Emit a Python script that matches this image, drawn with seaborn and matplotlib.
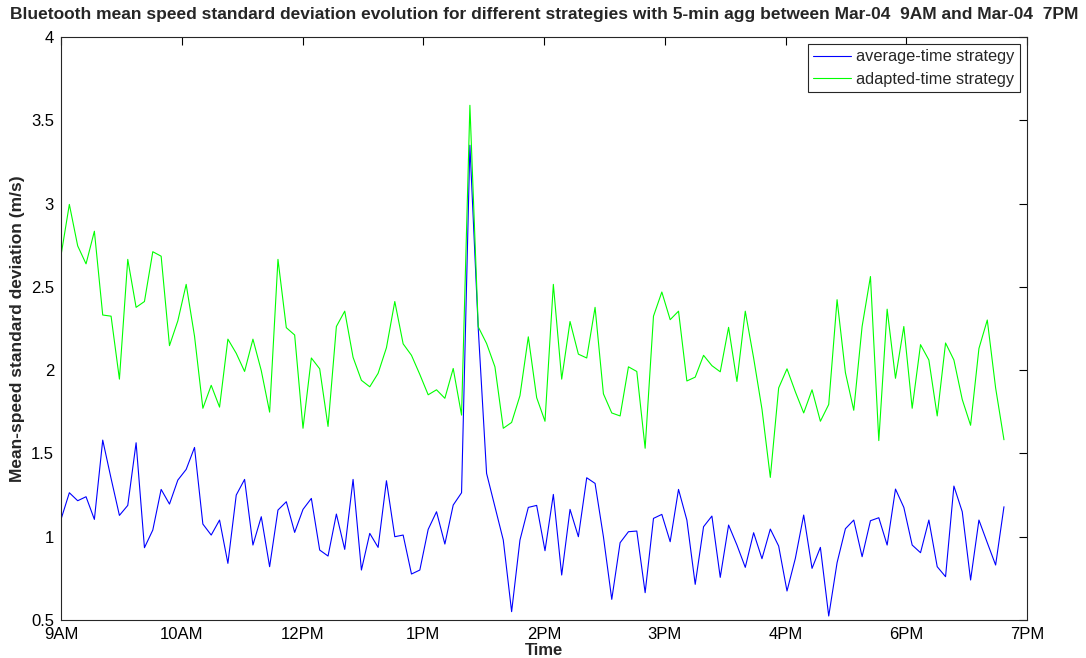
import numpy as np
import pandas as pd
import matplotlib
matplotlib.use("Agg")
import matplotlib.pyplot as plt
import seaborn as sns

# ---- data (5-min aggregation samples) ----
average_time = [
    1.104, 1.264, 1.216, 1.240, 1.104, 1.580, 1.350, 1.128, 1.188, 1.564,
    0.934, 1.040, 1.284, 1.196, 1.340, 1.404, 1.536, 1.076, 1.010, 1.100,
    0.840, 1.250, 1.344, 0.950, 1.120, 0.820, 1.160, 1.210, 1.026, 1.164,
    1.230, 0.920, 0.884, 1.136, 0.924, 1.344, 0.800, 1.020, 0.936, 1.336,
    1.000, 1.010, 0.776, 0.800, 1.044, 1.150, 0.956, 1.190, 1.264, 3.350,
    2.250, 1.380, 1.180, 0.980, 0.550, 0.980, 1.176, 1.188, 0.916, 1.254,
    0.770, 1.164, 1.000, 1.354, 1.320, 1.000, 0.624, 0.964, 1.030, 1.034,
    0.664, 1.110, 1.134, 0.970, 1.284, 1.100, 0.714, 1.060, 1.124, 0.756,
    1.070, 0.950, 0.816, 1.024, 0.868, 1.046, 0.944, 0.674, 0.870, 1.130,
    0.810, 0.936, 0.524, 0.844, 1.048, 1.100, 0.880, 1.096, 1.114, 0.950,
    1.286, 1.176, 0.950, 0.904, 1.100, 0.820, 0.760, 1.304, 1.150, 0.740,
    1.100, 0.964, 0.830, 1.180,
]
adapted_time = [
    2.688, 2.995, 2.746, 2.638, 2.834, 2.331, 2.324, 1.946, 2.665, 2.377,
    2.412, 2.711, 2.684, 2.147, 2.296, 2.515, 2.204, 1.771, 1.909, 1.778,
    2.186, 2.101, 1.992, 2.186, 1.997, 1.748, 2.665, 2.255, 2.211, 1.651,
    2.073, 2.008, 1.662, 2.262, 2.354, 2.077, 1.939, 1.900, 1.981, 2.135,
    2.412, 2.158, 2.089, 1.974, 1.852, 1.882, 1.831, 2.010, 1.730, 3.590,
    2.260, 2.160, 2.020, 1.651, 1.686, 1.847, 2.200, 1.835, 1.693, 2.515,
    1.946, 2.292, 2.096, 2.073, 2.377, 1.858, 1.743, 1.725, 2.020, 1.992,
    1.531, 2.324, 2.469, 2.303, 2.354, 1.935, 1.958, 2.089, 2.027, 1.990,
    2.257, 1.932, 2.354, 2.073, 1.766, 1.356, 1.893, 2.008, 1.870, 1.743,
    1.882, 1.693, 1.794, 2.423, 1.985, 1.759, 2.262, 2.562, 1.577, 2.366,
    1.951, 2.262, 1.771, 2.153, 2.061, 1.725, 2.163, 2.061, 1.824, 1.669,
    2.130, 2.301, 1.893, 1.582,
]
series_names = ["average-time strategy", "adapted-time strategy"]
tick_labels = ["9AM", "10AM", "12PM", "1PM", "2PM", "3PM", "4PM", "6PM", "7PM"]
ytick_values = [0.5, 1, 1.5, 2, 2.5, 3, 3.5, 4]
ytick_labels = ["0.5", "1", "1.5", "2", "2.5", "3", "3.5", "4"]
samples_per_tick = 14.47  # samples between two date ticks (9AM .. 7PM axis)

# ---- build long-form table ----
n = len(average_time)
df = pd.DataFrame({
    "sample": np.concatenate([np.arange(n), np.arange(len(adapted_time))]),
    "value": average_time + adapted_time,
    "strategy": [series_names[0]] * n + [series_names[1]] * len(adapted_time),
})

sns.set_style("white")
plt.rcParams["font.family"] = ["Liberation Sans", "DejaVu Sans"]

fig = plt.figure(figsize=(10.86, 6.58), dpi=100)
ax = fig.add_axes([61 / 1086, 1 - 620 / 658, (1027 - 61) / 1086, (620 - 37) / 658])

sns.lineplot(data=df, x="sample", y="value", hue="strategy",
             palette={series_names[0]: "#0000FF", series_names[1]: "#00FF00"},
             hue_order=series_names, linewidth=0.8, ax=ax, legend=True)

xmax = samples_per_tick * (len(tick_labels) - 1)
ax.set_xlim(0, xmax)
ax.set_ylim(0.5, 4)
ax.set_xticks(np.linspace(0, xmax, len(tick_labels)))
ax.set_xticklabels(tick_labels)
ax.set_yticks(ytick_values)
ax.set_yticklabels(ytick_labels)

ax.tick_params(axis="both", direction="in", length=6, width=0.8,
               top=True, right=True, labelsize=12, colors="black")
ax.tick_params(axis="x", pad=5)
ax.tick_params(axis="y", pad=5)
for s in ax.spines.values():
    s.set_visible(True)
    s.set_color("#262626")
    s.set_linewidth(0.8)

ax.set_xlabel("Time", fontsize=12, fontweight="bold", labelpad=1)
ax.set_ylabel("Mean-speed standard deviation (m/s)", fontsize=12.5,
              fontweight="bold", labelpad=4)
ax.set_title("Bluetooth mean speed standard deviation evolution for different strategies "
             "with 5-min agg between Mar-04  9AM and Mar-04  7PM",
             fontsize=12.5, fontweight="bold", pad=13)

leg = ax.legend(loc="upper right", fontsize=11.8, frameon=True, fancybox=False,
                framealpha=1, edgecolor="#262626", handlelength=2.3,
                borderaxespad=0.45, borderpad=0.3, labelspacing=0.45,
                handletextpad=0.35)
leg.get_frame().set_linewidth(0.8)

fig.savefig("out.png", dpi=100, facecolor="white")
